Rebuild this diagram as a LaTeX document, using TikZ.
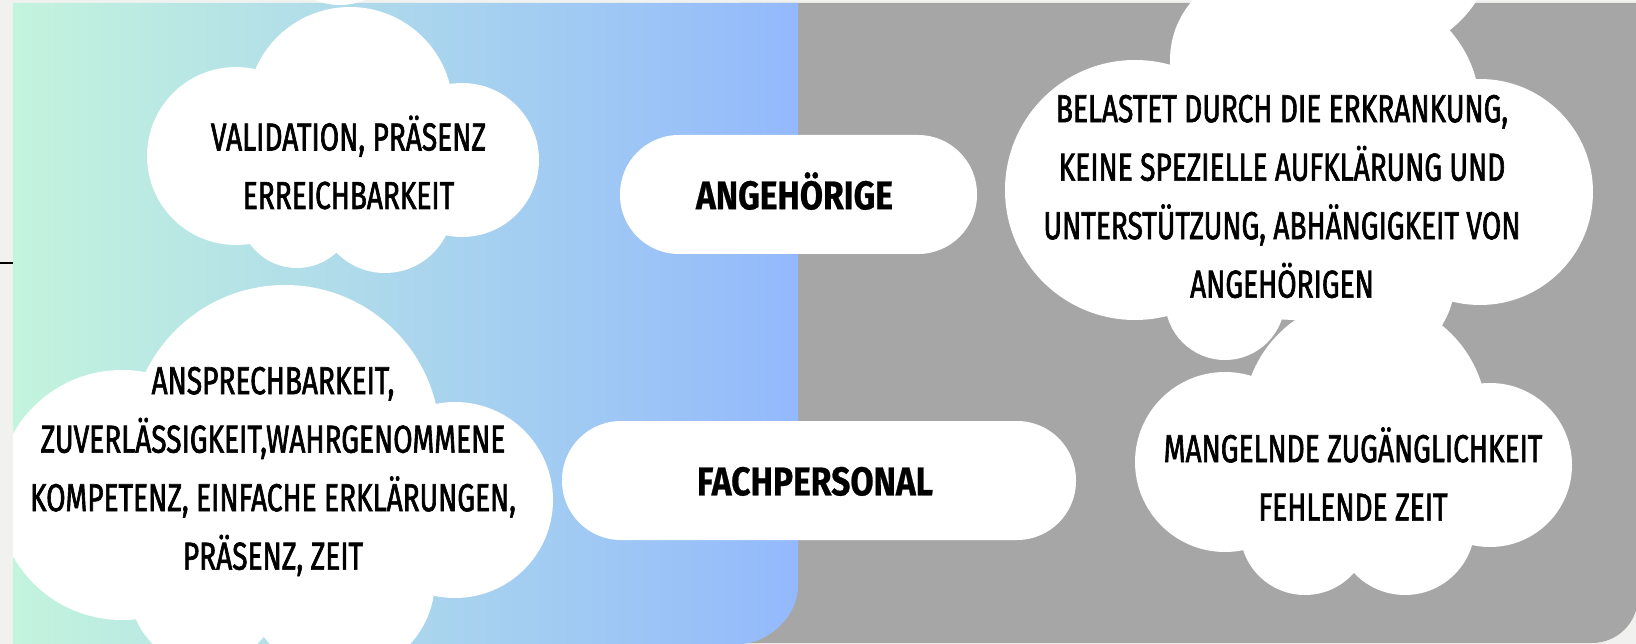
\documentclass[tikz,border=0pt]{standalone}
\usepackage{fontspec}
\newfontfamily\cloudfont{Fira Sans}[FakeStretch=0.72, FakeBold=1.6]
\newfontfamily\pillfont{Fira Sans}[FakeStretch=0.84, FakeBold=0.6]
\definecolor{bgc}{RGB}{241,242,239}
\definecolor{mintc}{RGB}{195,244,221}
\definecolor{bluec}{RGB}{147,185,252}
\definecolor{grayc}{RGB}{166,166,166}
\begin{document}
\begin{tikzpicture}[x=1pt,y=-1pt,
  cloud/.style={fill=white},
  cloudtext/.style={font=\cloudfont\fontsize{39}{58.5}\selectfont, align=center, text=black, inner sep=0pt},
  pill/.style={fill=white, rounded corners=59pt, draw=none, minimum height=119pt, inner sep=0pt},
  pilltext/.style={font=\pillfont\bfseries\fontsize{40}{48}\selectfont, inner sep=0pt, text height=27.5pt, text depth=0pt}]
\useasboundingbox (0,0) rectangle (1636,644);
\fill[bgc] (0,0) rectangle (1636,644);
% gray panel
\fill[grayc] (740,3) -- (1638,3) -- (1638,597) .. controls (1638,622.4) and (1617.4,643) .. (1592,643) -- (740,643) -- cycle;
% gradient panel
\shade[left color=mintc, right color=bluec] (13,3) -- (798,3) -- (798,586) .. controls (798,618) and (766,644) .. (740,644) -- (13,644) -- cycle;
% stray line at left
\coordinate (lineA) at (0,263);
\coordinate (lineB) at (13,263);
\draw[line width=1.3pt, black] (lineA) -- (lineB);
% top-left cloud
\fill[cloud] (236,156) circle[radius=89pt] (350,110) circle[radius=103pt] (462,160) circle[radius=77pt]
  (297,210) circle[radius=58pt] (385,205) circle[radius=68pt] (345,165) ellipse[x radius=110pt, y radius=70pt]
  (340,-60) circle[radius=65pt];
% bottom-left cloud
\begin{scope}
\clip (13,0) rectangle (1636,644);
\fill[cloud] (122,495) circle[radius=125pt] (285,440) circle[radius=155pt] (455,500) circle[radius=98pt]
  (205,590) circle[radius=75pt] (340,580) circle[radius=95pt] (290,500) ellipse[x radius=170pt, y radius=100pt];
\end{scope}
% top-right cloud
\fill[cloud] (1135,190) circle[radius=130pt] (1260,60) circle[radius=90pt] (1380,-60) circle[radius=114pt]
  (1360,110) circle[radius=120pt] (1480,192) circle[radius=113pt] (1225,300) circle[radius=60pt]
  (1370,280) circle[radius=85pt] (1300,190) ellipse[x radius=200pt, y radius=130pt];
% bottom-right cloud
\fill[cloud] (1225,462) circle[radius=90pt] (1365,420) circle[radius=122pt] (1490,465) circle[radius=82pt]
  (1305,530) circle[radius=65pt] (1405,525) circle[radius=70pt] (1350,470) ellipse[x radius=150pt, y radius=90pt];
% pills
\node[pill, minimum width=357pt] (angpill) at (798.5,194.5) {};
\node[pill, minimum width=514pt] (fachpill) at (819,480.5) {};
\node[pilltext] (angtext) at (794.5,195.5) {ANGEHÖRIGE};
\node[pilltext] (fachtext) at (815,481.5) {FACHPERSONAL};
% cloud texts
\node[cloudtext] (tltext) at (348.5,162.5) {VALIDATION, PRÄSENZ\\ERREICHBARKEIT};
\node[cloudtext] (bltext) at (273,471.5) {ANSPRECHBARKEIT,\\ZUVERLÄSSIGKEIT,WAHRGENOMMENE\\KOMPETENZ, EINFACHE ERKLÄRUNGEN,\\PRÄSENZ, ZEIT};
\node[cloudtext] (trtext) at (1282,196.5) {BELASTET DURCH DIE ERKRANKUNG,\\KEINE SPEZIELLE AUFKLÄRUNG UND\\UNTERSTÜTZUNG, ABHÄNGIGKEIT VON\\ANGEHÖRIGEN};
\node[cloudtext] (rbtext) at (1353,474) {MANGELNDE ZUGÄNGLICHKEIT\\FEHLENDE ZEIT};
\end{tikzpicture}
\end{document}
